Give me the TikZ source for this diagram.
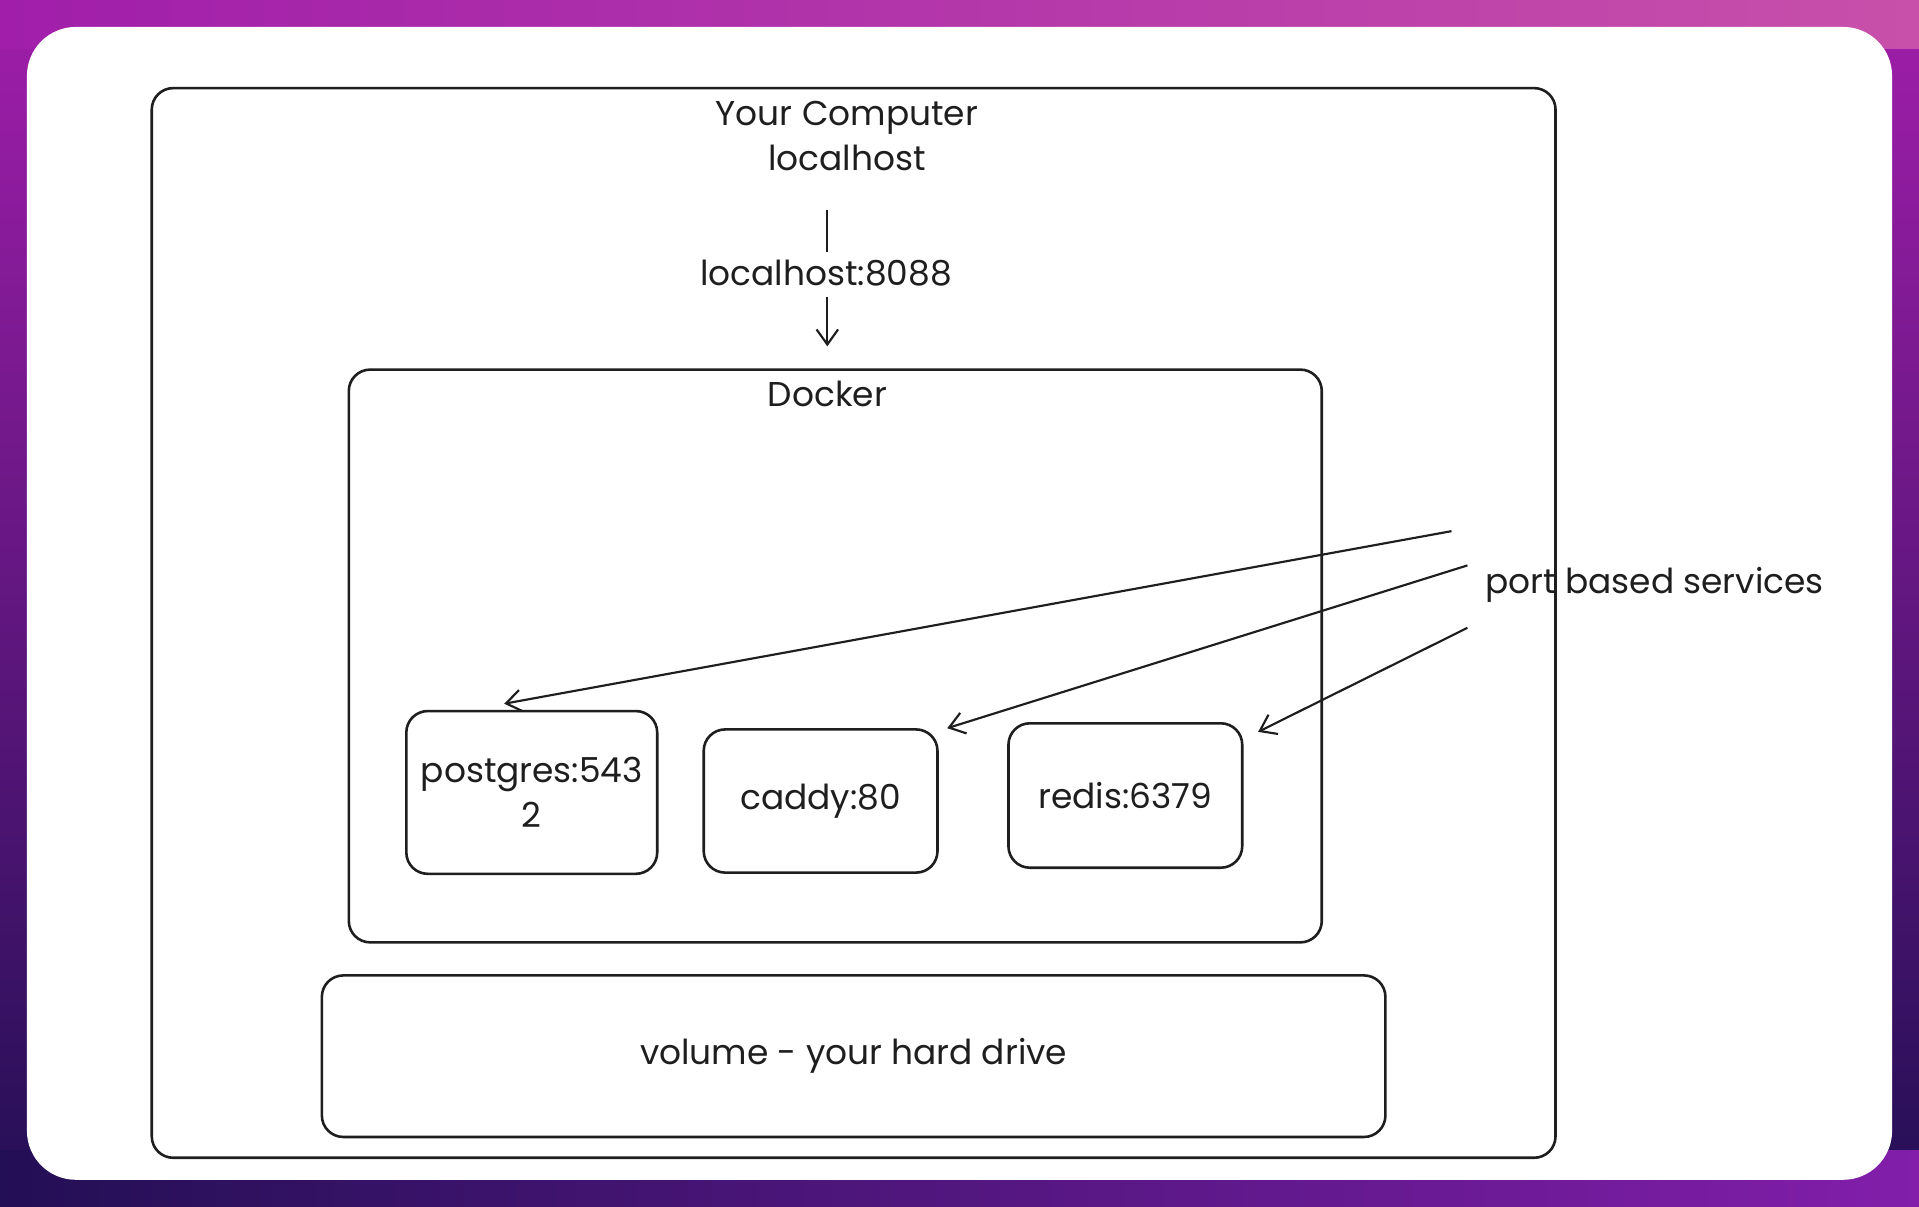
\documentclass[tikz,border=0pt]{standalone}
\usepackage{fontspec}
\setmainfont{Poppins}
\usetikzlibrary{arrows.meta}
\definecolor{ink}{HTML}{1E1E1E}
\begin{document}
\begin{tikzpicture}[x=0.02cm,y=-0.02cm,
  box/.style={draw=ink,line width=1.2pt,rounded corners=0.35cm},
  lbl/.style={text=ink,font=\fontsize{16}{21}\selectfont,align=center},
  arr/.style={draw=ink,line width=1pt,-{Straight Barb[length=7pt,width=10pt]}}]
\shade[top color={rgb,255:red,160;green,30;blue,170},bottom color={rgb,255:red,35;green,15;blue,85}] (0,0) rectangle (1568,986);
\shade[left color={rgb,255:red,160;green,30;blue,170},middle color={rgb,255:red,200;green,170;blue,225},right color={rgb,255:red,200;green,80;blue,170}] (0,0) rectangle (1568,40);
\shade[left color={rgb,255:red,35;green,15;blue,85},middle color={rgb,255:red,80;green,20;blue,130},right color={rgb,255:red,130;green,30;blue,170}] (0,940) rectangle (1568,986);
\fill[white,rounded corners=0.8cm] (22,22) rectangle (1546,964);
\useasboundingbox (0,0) rectangle (1568,986);
\node[box,minimum width=1147*0.02cm,minimum height=874*0.02cm] (comp) at (697.5,509) {};
\node[lbl] (ct) at (692,111) {Your Computer\\localhost};
\node[box,minimum width=795*0.02cm,minimum height=468*0.02cm] (docker) at (682.5,536) {};
\node[lbl] (dt) at (676,322) {Docker};
\node[lbl] (port) at (675,223) {localhost:8088};
\coordinate (l1) at (676,172); \coordinate (l2) at (676,206);
\coordinate (a1) at (676,243); \coordinate (a2) at (676,283);
\draw[ink,line width=1pt] (l1) -- (l2);
\draw[arr] (a1) -- (a2);
\node[box,minimum width=205*0.02cm,minimum height=133*0.02cm] (pg) at (434.5,647.5) {};
\node[lbl] at (pg) {postgres:543\\2};
\node[box,minimum width=191*0.02cm,minimum height=117*0.02cm] (caddy) at (670.5,654.5) {};
\node[lbl] at (caddy) {caddy:80};
\node[box,minimum width=191*0.02cm,minimum height=118*0.02cm] (redis) at (919.5,650) {};
\node[lbl] at (redis) {redis:6379};
\node[box,minimum width=869*0.02cm,minimum height=132*0.02cm] (vol) at (697.5,863) {};
\node[lbl] at (vol) {volume - your hard drive};
\node[lbl] (svc) at (1352,478) {port based services};
\coordinate (s1) at (1186,434); \coordinate (s2) at (1199,462); \coordinate (s3) at (1199,513);
\coordinate (t1) at (412,575); \coordinate (t2) at (774,595); \coordinate (t3) at (1028,598);
\draw[arr] (s1) -- (t1);
\draw[arr] (s2) -- (t2);
\draw[arr] (s3) -- (t3);
\end{tikzpicture}
\end{document}
